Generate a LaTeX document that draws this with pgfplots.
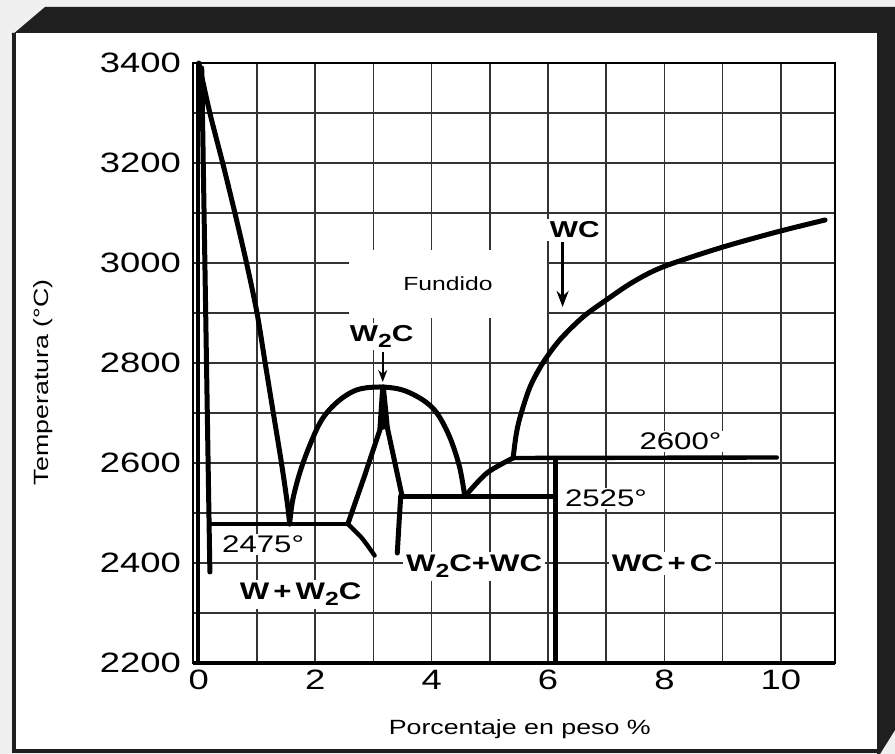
\documentclass[border=0pt]{standalone}
\usepackage{fontspec}
\setmainfont{Liberation Sans}[FakeStretch=1.3]
\usepackage{pgfplots}
\pgfplotsset{compat=1.18}
\usetikzlibrary{arrows.meta}

% subindice grande, como en el original
\newcommand{\sub}[1]{\raisebox{-0.45ex}{\fontsize{9.5}{9.5}\selectfont #1}}

\begin{document}
\begin{tikzpicture}
% marco (coordenadas en pixeles de la imagen)
\begin{scope}[x=0.5pt,y=-0.5pt,shift={(-96.5pt,331.5pt)}]
  \fill[black!6] (0,0) rectangle (895,754);
  \fill[white] (14,33) rectangle (877,751);
  \fill[black!88] (12,35) -- (45,7) -- (895,7) -- (895,730) -- (880,754)
                  -- (877,754) -- (877,33) -- (12,33) -- cycle;
  \draw[black!88, line width=2pt] (14,33) -- (14,751) -- (877,751);
\end{scope}

\begin{axis}[
  scale only axis,
  width=321pt, height=300pt,
  xmin=-0.1, xmax=10.93,
  ymin=2200, ymax=3400,
  clip=false,
  xtick={0,2,...,10},
  minor xtick={1,3,...,9},
  ytick={2200,2400,...,3400},
  minor ytick={2300,2500,...,3300},
  grid=both,
  major grid style={black!80, line width=0.8pt},
  minor grid style={black!80, line width=0.8pt},
  major tick length=0pt, minor tick length=0pt,
  axis line style={black, line width=1pt},
  /pgf/number format/assume math mode=true,
  /pgf/number format/1000 sep={},
  ticklabel style={font=\fontsize{14}{14}\selectfont},
  yticklabel style={xshift=-2.5pt},
  xlabel={Porcentaje en peso \%},
  ylabel={Temperatura (°C)},
  label style={font=\fontsize{10.3}{12}\selectfont},
  xlabel style={at={(axis description cs:0.509,-0.11)}, anchor=center},
  ylabel style={at={(axis description cs:-0.234,0.468)}, anchor=center},
  phase/.style={black, line width=2.5pt, line join=round, line cap=round},
  flat/.style={black, line width=2.2pt, line join=round, line cap=round},
]

% eje inferior grueso y borde del W
\addplot[black, line width=2pt] coordinates {(-0.1,2200) (10.93,2200)};
\addplot[black, line width=2pt] coordinates {(-0.02,2200) (-0.02,3400)};

% solidus del W
\addplot[phase] coordinates {(0.05,3390) (0.19,2382)};

% liquidus del W
\addplot[phase, smooth, tension=0.5] coordinates {
  (0,3400) (0.19,3300) (0.41,3200) (0.62,3100) (0.82,3000) (1.0,2900)
  (1.14,2800) (1.28,2700) (1.42,2600) (1.52,2520) (1.56,2478)};

% eutectica 2475
\addplot[flat] coordinates {(0.19,2478) (2.56,2478)};
\addplot[flat, smooth, tension=0.5] coordinates {(2.56,2478) (2.8,2450) (3.02,2415)};

% fase W2C
\addplot[phase] coordinates {(2.56,2478) (2.85,2575) (3.11,2666) (3.16,2752)};
\addplot[phase] coordinates {(3.17,2752) (3.24,2670) (3.49,2535)};
\addplot[phase, smooth, tension=0.5] coordinates {(3.47,2535) (3.44,2480) (3.41,2420)};
\addplot[black, fill=black] coordinates {(3.11,2666) (3.15,2755) (3.18,2755) (3.24,2670)} -- cycle;

% cupula del W2C
\addplot[phase, smooth, tension=0.55] coordinates {
  (1.56,2478) (1.62,2530) (1.79,2600) (2.08,2680) (2.37,2721) (2.71,2746)
  (3.11,2752) (3.5,2746) (3.85,2726) (4.09,2700) (4.31,2652) (4.48,2592)
  (4.57,2533)};

% eutectica 2525
\addplot[flat] coordinates {(3.49,2533) (6.08,2533)};
\addplot[phase, smooth, tension=0.5] coordinates {(4.57,2533) (4.95,2580) (5.4,2610)};

% peritectica 2600
\addplot[flat] coordinates {(5.4,2610) (9.93,2611)};
\addplot[black, line width=2.8pt] coordinates {(6.13,2611) (6.13,2200)};

% liquidus del WC
\addplot[phase, smooth, tension=0.5] coordinates {
  (5.4,2610) (5.45,2655) (5.52,2692) (5.69,2752) (5.91,2800) (6.2,2846)
  (6.6,2892) (7.0,2926) (7.46,2962) (7.97,2992) (8.95,3030) (9.93,3062)
  (10.76,3086)};

% rotulos
\node[fill=white, minimum width=99pt, minimum height=34pt, inner sep=0pt,
      font=\fontsize{9.5}{10}\selectfont] at (axis cs:4.28,2958) {Fundido};
\node[fill=white, inner sep=1.5pt, anchor=base, font=\fontsize{11.5}{12}\bfseries]
  at (axis cs:6.46,3050) {WC};
\node[fill=white, inner sep=1.5pt, anchor=base, font=\fontsize{11.5}{12}\bfseries]
  at (axis cs:3.14,2842) {W\sub{2}C};
\addplot[black, line width=1.3pt, -{Stealth[length=8pt,width=6pt]}]
  coordinates {(6.25,3042) (6.25,2912)};
\addplot[black, line width=0.8pt, -{Stealth[length=6pt,width=4.5pt]}]
  coordinates {(3.16,2822) (3.16,2762)};

\node[fill=white, inner sep=1pt, anchor=base west, font=\fontsize{12}{12}\selectfont]
  at (axis cs:0.36,2420) {2475°};
\node[fill=white, inner sep=1pt, anchor=base west, font=\fontsize{12}{12}\selectfont]
  at (axis cs:6.25,2512) {2525°};
\node[fill=white, inner sep=1pt, anchor=base west, font=\fontsize{12}{12}\selectfont]
  at (axis cs:7.53,2626) {2600°};

\node[fill=white, inner sep=1.5pt, anchor=base, font=\fontsize{12}{12}\bfseries]
  at (axis cs:1.75,2326) {W\,+\,W\sub{2}C};
\node[fill=white, inner sep=1.5pt, anchor=base, font=\fontsize{12}{12}\bfseries]
  at (axis cs:4.73,2382) {W\sub{2}C+WC};
\node[fill=white, inner sep=1.5pt, anchor=base, font=\fontsize{12}{12}\bfseries]
  at (axis cs:7.96,2382) {WC\,+\,C};
\end{axis}

\pgfresetboundingbox
\begin{scope}[x=0.5pt,y=-0.5pt,shift={(-96.5pt,331.5pt)}]
  \path (0,0) rectangle (895,754);
\end{scope}
\end{tikzpicture}
\end{document}
